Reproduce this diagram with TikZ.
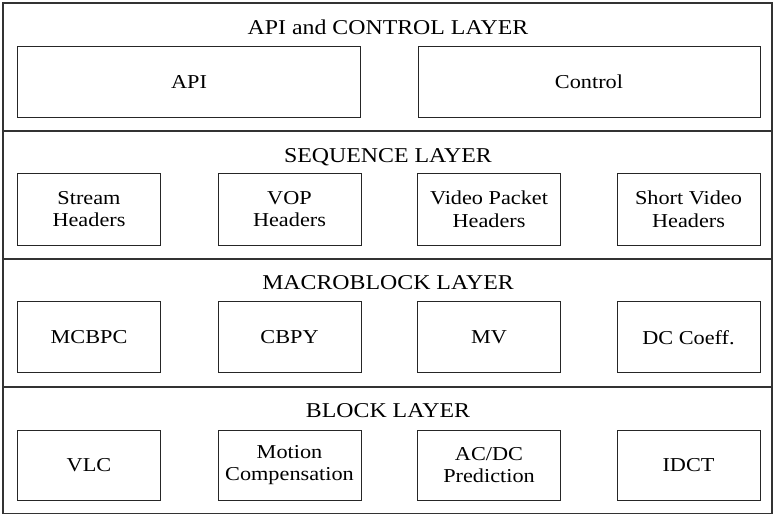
\documentclass[tikz,border=0pt]{standalone}
\usepackage{fontspec}
\setmainfont{Liberation Serif}[FakeStretch=1.13]
\begin{document}
\begin{tikzpicture}[x=1pt,y=-1pt,
  layerline/.style={draw=black!80,line width=1.4pt},
  unitbox/.style={draw=black!85,line width=1pt,inner sep=0pt,align=center,
    minimum height=71pt,font=\fontsize{19.7}{22.7}\selectfont},
  colbox/.style={unitbox,minimum width=143pt},
  title/.style={anchor=base,inner sep=0pt,font=\fontsize{21.1}{24}\selectfont}]
\useasboundingbox (0,0) rectangle (775,514);
\draw[layerline] (3,3) rectangle (772,513.5);
\coordinate (d1l) at (3,131); \coordinate (d1r) at (772,131);
\coordinate (d2l) at (3,259); \coordinate (d2r) at (772,259);
\coordinate (d3l) at (3,387); \coordinate (d3r) at (772,387);
\draw[layerline] (d1l) -- (d1r);
\draw[layerline] (d2l) -- (d2r);
\draw[layerline] (d3l) -- (d3r);
% titles
\node[title] (t1) at (388,34) {API and CONTROL LAYER};
\node[title] (t2) at (388,162) {SEQUENCE LAYER};
\node[title] (t3) at (388,289.5) {MACROBLOCK LAYER};
\node[title] (t4) at (388,417.7) {BLOCK LAYER};
% API layer
\node[unitbox,minimum width=343pt] (api) at (189,81.5) {API};
\node[unitbox,minimum width=342pt] (ctl) at (589,81.5) {Control};
% sequence layer
\node[colbox,minimum height=71.7pt] (s1) at (89,209.2) {Stream\\Headers};
\node[colbox,minimum height=71.7pt] (s2) at (289.5,209.2) {VOP\\Headers};
\node[colbox,minimum height=71.7pt] (s3) at (489,209.2) {Video Packet\\Headers};
\node[colbox,minimum height=71.7pt] (s4) at (688.5,209.2) {Short Video\\Headers};
% macroblock layer
\node[colbox] (m1) at (89,337.2) {MCBPC};
\node[colbox] (m2) at (289.5,337.2) {CBPY};
\node[colbox] (m3) at (489,337.2) {MV};
\node[colbox] (m4) at (688.5,337.2) {DC Coeff.};
% block layer
\node[colbox,minimum height=70pt] (b1) at (89,465) {VLC};
\node[colbox,minimum height=70pt] (b2) at (289.5,465) {Motion\\Compensation};
\node[colbox,minimum height=70pt] (b3) at (489,465) {AC/DC\\Prediction};
\node[colbox,minimum height=70pt] (b4) at (688.5,465) {IDCT};
\end{tikzpicture}
\end{document}
